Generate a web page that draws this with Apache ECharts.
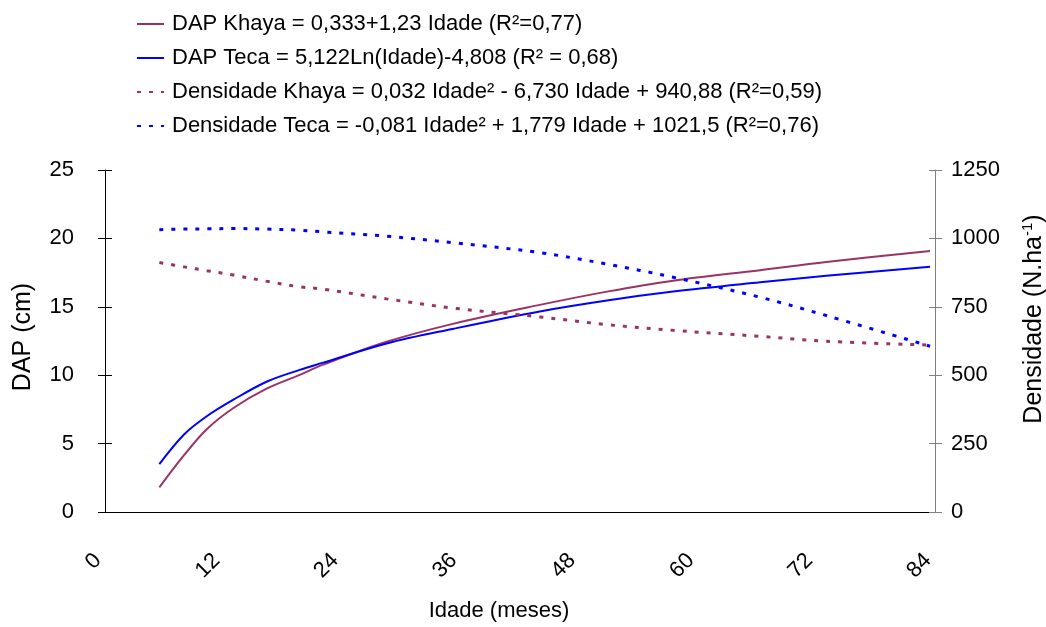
<!DOCTYPE html>
<html>
<head>
<meta charset="utf-8">
<script src="https://cdn.jsdelivr.net/npm/echarts@6/dist/echarts.min.js"></script>
<style>
html,body{margin:0;padding:0;background:#fff;}
#chart{width:1046px;height:627px;}
</style>
</head>
<body>
<div id="chart"></div>
<script>
// Idade (meses)
const idade = [5.5, 8, 10.3, 13, 16.4, 19.7, 22, 28.5, 35.3, 44, 50.8, 57.5, 66.3, 73, 83.5];
// DAP (cm)
const dapKhaya = [1.8, 4.15, 6.05, 7.6, 9.03, 10.02, 10.75, 12.44, 13.77, 15.14, 16.11, 16.91, 17.68, 18.28, 19.08];
const dapTeca = [3.5, 5.67, 7.0, 8.21, 9.54, 10.39, 10.9, 12.32, 13.4, 14.66, 15.46, 16.11, 16.79, 17.27, 17.92];
// Densidade (N.ha-1)
const densKhaya = [912, 896, 882, 866, 843, 823, 815, 779, 745, 713, 685, 664, 642, 624, 610];
const densTeca = [1032, 1034, 1035, 1036, 1034, 1030, 1024, 1008, 984, 948, 906, 858, 785, 718, 606];

const xTicks = [0, 12, 24, 36, 48, 60, 72, 84];
const dapTicks = [0, 5, 10, 15, 20, 25];
const densTicks = [0, 250, 500, 750, 1000, 1250];

const names = [
  'DAP Khaya = 0,333+1,23 Idade (R²=0,77)',
  'DAP Teca = 5,122Ln(Idade)-4,808 (R² = 0,68)',
  'Densidade Khaya = 0,032 Idade² - 6,730 Idade + 940,88 (R²=0,59)',
  'Densidade Teca = -0,081 Idade² + 1,779 Idade + 1021,5 (R²=0,76)'
];

const FONT = '"Liberation Sans", Arial, sans-serif';
const PURPLE = '#993366';
const BLUE = '#0000FF';

function pairs(xs, ys) { return xs.map((x, i) => [x, ys[i]]); }

const chart = echarts.init(document.getElementById('chart'), null, {renderer: 'canvas'});

const yBase = {
  type: 'value',
  splitLine: {show: false},
  axisLine: {show: true, lineStyle: {color: '#000', width: 1}},
  axisTick: {show: true, length: 7, lineStyle: {color: '#000'}},
  axisLabel: {fontFamily: FONT, fontSize: 22, color: '#000'}
};

const option = {
  animation: false,
  backgroundColor: '#fff',
  textStyle: {fontFamily: FONT},
  grid: {left: 105, right: 111, top: 170, bottom: 112, containLabel: false},
  legend: {
    orient: 'vertical',
    left: 136,
    top: 12,
    padding: 0,
    itemWidth: 27,
    itemHeight: 14,
    itemGap: 10,
    selectedMode: false,
    itemStyle: {opacity: 0},
    textStyle: {fontFamily: FONT, fontSize: 22, color: '#000', lineHeight: 24, padding: [0, 0, 0, 3]},
    data: names
  },
  xAxis: {
    type: 'value',
    min: 0, max: 84, interval: 12,
    splitLine: {show: false},
    axisLine: {show: true, onZero: false, lineStyle: {color: '#000', width: 1}},
    axisTick: {show: false},
    axisLabel: {
      fontFamily: FONT, fontSize: 22, color: '#000', rotate: 45, margin: 38,
      padding: [0, 10, 0, 0],
      formatter: v => xTicks.includes(v) ? String(v) : ''
    },
    name: 'Idade (meses)',
    nameLocation: 'middle',
    nameGap: 88,
    nameTextStyle: {fontFamily: FONT, fontSize: 22, color: '#000', padding: [0, 42, 0, 0]}
  },
  yAxis: [
    Object.assign({}, yBase, {
      position: 'left', min: 0, max: 25, interval: 5,
      axisLabel: Object.assign({}, yBase.axisLabel, {margin: 31,
        formatter: v => dapTicks.includes(v) ? String(v) : ''}),
      name: 'DAP (cm)', nameLocation: 'middle', nameRotate: 90, nameGap: 69,
      nameTextStyle: {fontFamily: FONT, fontSize: 25, color: '#000', padding: [0, 0, 0, 8]}
    }),
    Object.assign({}, yBase, {
      position: 'right', min: 0, max: 1250, interval: 250,
      axisLine: {show: true, lineStyle: {color: '#808080', width: 1}},
      axisTick: {show: true, length: 7, lineStyle: {color: '#808080'}},
      axisLabel: Object.assign({}, yBase.axisLabel, {margin: 16,
        formatter: v => densTicks.includes(v) ? String(v) : ''})
    }),
    {
      type: 'value', position: 'left', min: 0, max: 25, interval: 5,
      splitLine: {show: false}, axisLine: {show: false}, axisLabel: {show: false},
      axisTick: {show: true, inside: true, length: 7, lineStyle: {color: '#000'}}
    },
    {
      type: 'value', position: 'right', min: 0, max: 1250, interval: 250,
      splitLine: {show: false}, axisLine: {show: false}, axisLabel: {show: false},
      axisTick: {show: true, inside: true, length: 6, lineStyle: {color: '#808080'}}
    }
  ],
  graphic: [{
    type: 'text',
    x: 1034, y: 319,
    rotation: Math.PI / 2,
    style: {
      text: '{a|Densidade (N.ha}{s|-1}{a|)}',
      align: 'center', verticalAlign: 'middle',
      rich: {
        a: {fontFamily: FONT, fontSize: 25, fill: '#000', lineHeight: 28},
        s: {fontFamily: FONT, fontSize: 15, fill: '#000', verticalAlign: 'top', lineHeight: 28, padding: [0, 0, 11, 0]}
      }
    }
  }],
  series: [
    {
      name: names[0], type: 'line', yAxisIndex: 0, data: pairs(idade, dapKhaya),
      smooth: 0.35, symbol: 'none', color: PURPLE,
      lineStyle: {color: PURPLE, width: 2}
    },
    {
      name: names[1], type: 'line', yAxisIndex: 0, data: pairs(idade, dapTeca),
      smooth: 0.35, symbol: 'none', color: BLUE,
      lineStyle: {color: BLUE, width: 2}
    },
    {
      name: names[2], type: 'line', yAxisIndex: 1, data: pairs(idade, densKhaya),
      smooth: 0.35, symbol: 'none', color: PURPLE,
      lineStyle: {color: PURPLE, width: 3, type: [4, 8]}
    },
    {
      name: names[3], type: 'line', yAxisIndex: 1, data: pairs(idade, densTeca),
      smooth: 0.35, symbol: 'none', color: BLUE,
      lineStyle: {color: BLUE, width: 3, type: [4, 8]}
    }
  ]
};
chart.setOption(option);
</script>
</body>
</html>
